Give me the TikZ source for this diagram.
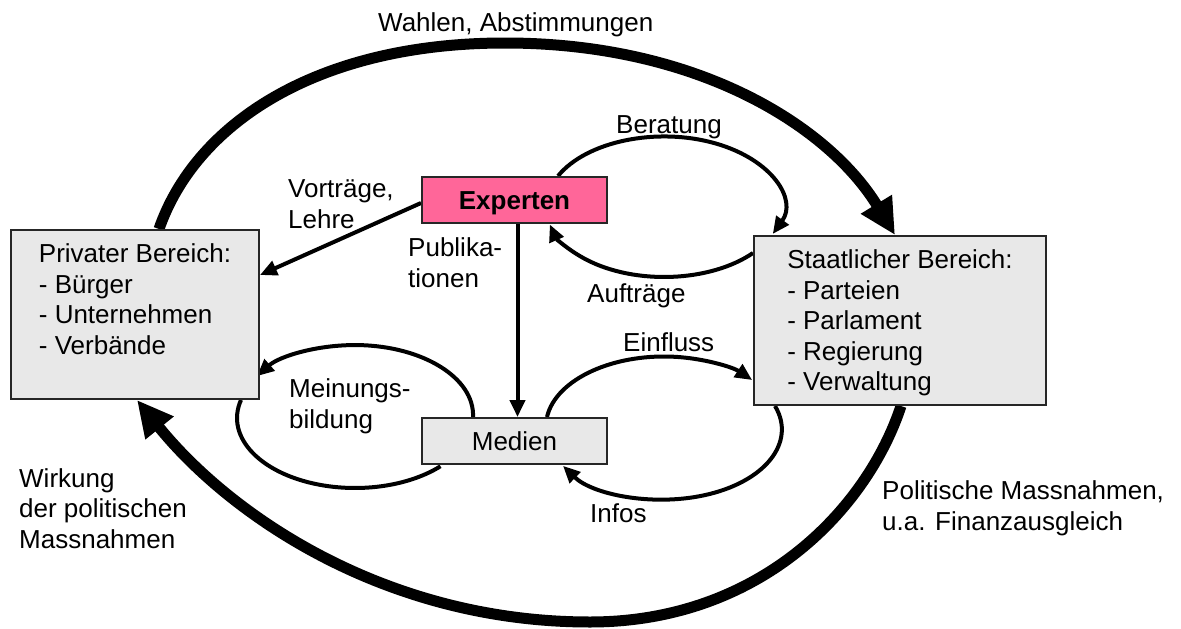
\documentclass[tikz,border=0pt]{standalone}
\usepackage{fontspec}
\setmainfont{Liberation Sans}
\usetikzlibrary{arrows.meta}

\definecolor{boxgray}{HTML}{E8E8E8}
\definecolor{expertpink}{HTML}{FF6699}
\pgfdeclarelayer{background}
\pgfsetlayers{background,main}

\begin{document}
\begin{tikzpicture}[x=1pt,y=-1pt,
    every node/.style={font=\fontsize{26pt}{30.5pt}\selectfont},
    bereich/.style={draw=black!85, fill=boxgray, line width=2pt, anchor=north west, align=left,
        inner xsep=15pt, inner ysep=0pt},
    akteur/.style={draw=black!85, line width=2pt, minimum width=185pt, minimum height=46pt,
        inner sep=0pt, text height=19pt, text depth=0pt},
    lbl/.style={anchor=base west, align=left, inner sep=0pt},
    pfeil/.style={line width=4pt, -{Triangle[length=17pt,width=15pt]}},
    linie/.style={line width=4pt},
    gross/.style={line width=11pt, -{Triangle[length=36pt,width=34pt]}},
    schleife/.style={x radius=118, y radius=70}]
    \useasboundingbox (0,0) rectangle (1181,629);

    % Boxes (the node base is the last line)
    \node[bereich, minimum width=248pt, text height=124pt, text depth=45pt] (priv) at (10,229)
        {Privater Bereich:\\- Bürger\\- Unternehmen\\- Verbände};
    \node[bereich, minimum width=292pt, text height=154.5pt, text depth=14.5pt] (stat) at (753,235)
        {Staatlicher Bereich:\\- Parteien\\- Parlament\\- Regierung\\- Verwaltung};
    \node[akteur, fill=expertpink, font=\fontsize{26pt}{30.5pt}\selectfont\bfseries] (experten) at (514.5,200) {Experten};
    \node[akteur, fill=boxgray] (medien) at (514.5,441) {Medien};

    % Labels
    \node[lbl] (wahlen) at (378,31) {Wahlen, Abstimmungen};
    \node[lbl] (vortraege) at (288,228) {Vorträge,\\Lehre};
    \node[lbl] (publ) at (408,287) {Publika-\\tionen};
    \node[lbl] (beratung) at (616,133) {Beratung};
    \node[lbl] (auftraege) at (587,302) {Aufträge};
    \node[lbl] (meinung) at (289,428) {Meinungs-\\bildung};
    \node[lbl] (einfluss) at (623,351) {Einfluss};
    \node[lbl] (infos) at (590,522) {Infos};
    \node[lbl] (wirkung) at (19,548) {Wirkung\\der politischen\\Massnahmen};
    \node[lbl] (massn) at (882,530) {Politische Massnahmen,\\u.a. Finanzausgleich};

    \begin{pgfonlayer}{background}
        % outer cycle
        \draw[gross] ([xshift=149pt]priv.north west) .. controls (195,125) and (315,43) .. (505,43)
            .. controls (700,43) and (830,128) .. ([xshift=142pt]stat.north west);
        \draw[gross] ([xshift=148pt]stat.south west) .. controls (867,509) and (760,622) .. (590,622)
            .. controls (385,622) and (230,515) .. ([xshift=127pt]priv.south west);
        % experts
        \draw[pfeil] ([yshift=-3pt]experten.west) -- ([yshift=-46pt]priv.north east);
        \draw[pfeil] ([xshift=3pt]experten.south) -- ([xshift=3pt]medien.north);
        \draw[pfeil] ([xshift=43.5pt]experten.north) arc[schleife, start angle=205.8, end angle=383.1];
        \draw[pfeil] ([yshift=-18pt]stat.north west) arc[schleife, start angle=41.1, end angle=165.5];
        % media loops
        \draw[pfeil] ([xshift=-41.5pt]medien.north) arc[schleife, start angle=1.6, end angle=-146.2];
        \draw[linie] ([xshift=231pt]priv.south west) arc[schleife, start angle=194.9, end angle=43.6];
        \draw[pfeil] ([xshift=32.5pt]medien.north) arc[schleife, start angle=187.8, end angle=318.4];
        \draw[pfeil] ([xshift=22pt]stat.south west) arc[schleife, start angle=-19.6, end angle=148.7];
    \end{pgfonlayer}
\end{tikzpicture}
\end{document}
